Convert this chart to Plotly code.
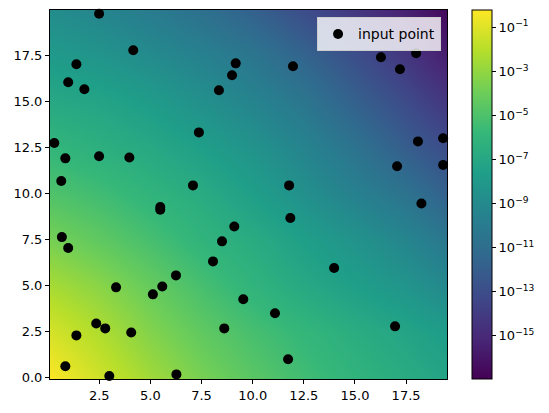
import plotly.graph_objects as go

# grid of the background field (log10 of the value)
grid_x = [0, 2.5, 5, 7.5, 10, 12.5, 15, 17.5, 19.5]
grid_y = [0, 2.5, 5, 7.5, 10, 12.5, 15, 17.5, 20]
log_values = [
    [-0.2, -1.4, -2.6, -3.7, -4.6, -5.4, -6.1, -6.7, -7.2],
    [-1.2, -2.2, -3.4, -4.4, -5.2, -5.9, -6.6, -7.2, -7.8],
    [-2.4, -3.2, -4.2, -5.2, -6.1, -6.9, -7.6, -8.3, -9.1],
    [-3.7, -4.4, -5.2, -6.1, -6.7, -7.6, -8.4, -9.3, -10.3],
    [-4.9, -5.4, -6.1, -6.7, -7.6, -8.6, -9.6, -10.6, -11.8],
    [-5.9, -6.4, -6.9, -7.6, -8.4, -9.4, -10.6, -12.0, -13.0],
    [-6.9, -7.2, -7.8, -8.6, -9.4, -10.4, -11.8, -13.1, -14.3],
    [-7.9, -8.3, -8.9, -9.6, -10.4, -11.6, -12.9, -14.3, -15.6],
    [-8.8, -9.3, -10.0, -10.8, -11.8, -13.0, -14.3, -15.5, -16.6],
]

# scattered input points
point_x = [2.49, 4.16, 1.38, 0.98, 1.77, 9.17, 8.99, 8.35, 11.97, 16.27,
           17.99, 17.20, 7.37, 0.30, 0.84, 2.49, 3.97, 18.08, 19.31, 17.06,
           19.31, 0.64, 7.08, 11.78, 18.25, 5.48, 5.48, 11.84, 9.10, 0.67,
           0.98, 8.50, 8.06, 13.98, 6.25, 3.32, 5.58, 5.12, 9.54, 11.09,
           2.35, 2.79, 4.06, 8.61, 16.96, 1.38, 11.73, 0.84, 2.99, 6.27]
point_y = [19.78, 17.79, 17.03, 16.05, 15.67, 17.08, 16.43, 15.62, 16.92, 17.41,
           17.63, 16.76, 13.33, 12.75, 11.92, 12.03, 11.97, 12.84, 13.01, 11.49,
           11.56, 10.69, 10.45, 10.45, 9.47, 9.27, 9.13, 8.68, 8.22, 7.64,
           7.05, 7.41, 6.32, 5.96, 5.56, 4.91, 4.96, 4.53, 4.26, 3.50,
           2.95, 2.68, 2.46, 2.68, 2.79, 2.30, 1.00, 0.62, 0.09, 0.18]

cbar_exponents = [-1, -3, -5, -7, -9, -11, -13, -15]
cbar_labels = [f"10<sup>\u2212{-e}</sup>" for e in cbar_exponents]

fig = go.Figure()

fig.add_trace(go.Heatmap(
    x=grid_x, y=grid_y, z=log_values,
    zsmooth="best",
    colorscale="Viridis",
    zmin=-16.97, zmax=-0.21,
    showscale=True,
    colorbar=dict(
        x=1.063, xanchor="left", xref="paper",
        y=0.5, yanchor="middle", len=1.0, lenmode="fraction",
        thickness=20, thicknessmode="pixels",
        outlinecolor="black", outlinewidth=1,
        tickvals=cbar_exponents, ticktext=cbar_labels,
        ticks="outside", ticklen=4, tickcolor="black",
        tickfont=dict(size=13, color="black"),
        xpad=0, ypad=0,
    ),
    hoverinfo="skip",
    showlegend=False,
))

fig.add_trace(go.Scatter(
    x=point_x, y=point_y,
    mode="markers",
    marker=dict(color="black", size=10),
    name="input point",
    showlegend=True,
    cliponaxis=False,
))

axis_common = dict(
    showline=True, linecolor="black", linewidth=1, mirror=True,
    ticks="outside", ticklen=4, tickcolor="black",
    showgrid=False, zeroline=False, automargin=False,
    tickfont=dict(size=13, color="black"),
)

# page body has an 8px margin, so the figure is a bit smaller than the window
fig.update_layout(
    width=533, height=397,
    margin=dict(l=42, r=94, t=2, b=26),
    paper_bgcolor="white", plot_bgcolor="white",
    font=dict(family="DejaVu Sans", color="black"),
    xaxis=dict(range=[0.09, 19.5], tickvals=[2.5, 5, 7.5, 10, 12.5, 15, 17.5],
               ticktext=["2.5", "5.0", "7.5", "10.0", "12.5", "15.0", "17.5"],
               **axis_common),
    yaxis=dict(range=[-0.07, 19.98], tickvals=[0, 2.5, 5, 7.5, 10, 12.5, 15, 17.5],
               ticktext=["0.0", "2.5", "5.0", "7.5", "10.0", "12.5", "15.0", "17.5"],
               **axis_common),
    legend=dict(
        x=0.985, xanchor="right", y=0.98, yanchor="top",
        bgcolor="rgba(255,255,255,0.8)", bordercolor="#cccccc", borderwidth=1,
        font=dict(size=14, color="black"),
        itemwidth=30, tracegroupgap=0,
    ),
)

fig.write_html("out.html")
